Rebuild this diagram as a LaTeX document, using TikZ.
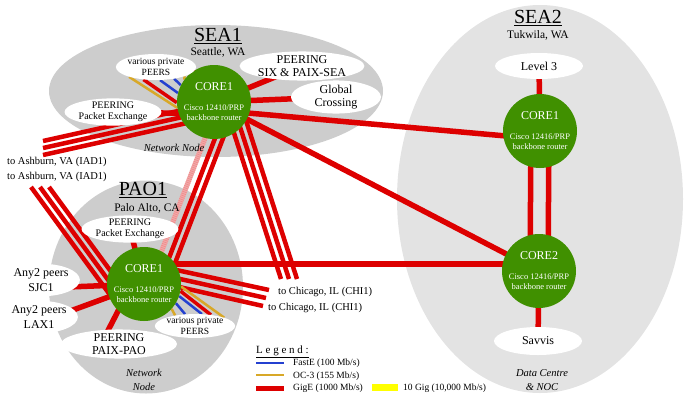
\documentclass[tikz,border=0pt]{standalone}
\usepackage{fontspec}
\setmainfont{Liberation Serif}
\usetikzlibrary{shapes.geometric}
\definecolor{coregreen}{RGB}{64,144,0}
\definecolor{linkred}{RGB}{221,0,0}
\definecolor{fastblue}{RGB}{36,64,208}
\definecolor{ocgold}{RGB}{216,168,40}
\definecolor{nodegray}{RGB}{205,205,205}
\definecolor{dcgray}{RGB}{227,227,227}
\definecolor{tengig}{RGB}{255,255,0}
\definecolor{planpink}{RGB}{240,170,170}
\pgfdeclarelayer{regions}
\pgfdeclarelayer{links}
\pgfsetlayers{regions,links,main}

\begin{document}
\begin{tikzpicture}[x=1pt, y=-1pt,
  region/.style={ellipse, inner sep=0pt},
  peer/.style={ellipse, fill=white, inner sep=0pt, align=center, font=\fontsize{12}{12.5}\selectfont},
  smallpeer/.style={peer, font=\fontsize{9.5}{10.5}\selectfont},
  core/.style={circle, fill=coregreen, text=white, minimum size=74pt, inner sep=0pt, align=center, font=\fontsize{8.5}{10}\selectfont},
  title/.style={inner sep=0pt, font=\fontsize{20}{20}\selectfont},
  place/.style={inner sep=0pt, font=\fontsize{11.5}{12}\selectfont},
  note/.style={inner sep=0pt, align=center, font=\fontsize{10.5}{14}\selectfont\itshape},
  dest/.style={inner sep=0pt, anchor=west, font=\fontsize{10.5}{12}\selectfont},
  legtext/.style={inner sep=0pt, anchor=west, font=\fontsize{9.5}{10}\selectfont},
  gige/.style={draw=linkred, line width=5.5pt},
  trunk/.style={draw=linkred, line width=4.5pt},
  peerred/.style={draw=linkred, line width=3.5pt},
  fastE/.style={draw=fastblue, line width=2.5pt},
  octhree/.style={draw=ocgold, line width=2.5pt},
  planned/.style={draw=planpink, line width=5pt},
]
  \useasboundingbox (0,0) rectangle (693,400);

  % draw the grey site areas
  \begin{pgfonlayer}{regions}
    \node[region, fill=nodegray, minimum width=334pt, minimum height=132pt] (sea1) at (216,91) {};
    \node[region, fill=nodegray, minimum width=194pt, minimum height=213pt] (pao1) at (146,287) {};
    \node[region, fill=dcgray, minimum width=286pt, minimum height=388pt] (sea2) at (540,199) {};
  \end{pgfonlayer}

  % SEA1 site
  \node[title] (sea1name) at (218,36) {\underline{SEA1}};
  \node[place] (sea1town) at (218,52) {Seattle, WA};
  \node[core] (sea1core) at (214,102) {{\fontsize{12}{12}\selectfont CORE1}\\[10pt]Cisco 12410/PRP\\backbone router};
  \node[smallpeer, minimum width=80pt, minimum height=26pt] (privsea) at (156,67) {various private\\PEERS};
  \node[peer, minimum width=116pt, minimum height=28pt] (sixsea) at (302,66) {PEERING\\SIX \& PAIX-SEA};
  \node[peer, minimum width=90pt, minimum height=30pt] (global) at (336,97) {Global\\Crossing};
  \node[smallpeer, minimum width=80pt, minimum height=24pt, font=\fontsize{10}{10.5}\selectfont] (packsea) at (113,112) {PEERING\\Packet Exchange};
  \node[note] (sea1note) at (174,148) {Network Node};

  % PAO1 site
  \node[title] (pao1name) at (143,190) {\underline{PAO1}};
  \node[place] (pao1town) at (147,208) {Palo Alto, CA};
  \node[core] (paocore) at (144,284) {{\fontsize{12}{12}\selectfont CORE1}\\[10pt]Cisco 12410/PRP\\backbone router};
  \node[smallpeer, minimum width=80pt, minimum height=24pt, font=\fontsize{10}{10.5}\selectfont] (packpao) at (130,229) {PEERING\\Packet Exchange};
  \node[peer, minimum width=68pt, minimum height=32pt, font=\fontsize{12}{15}\selectfont] (sjc) at (41,280) {Any2 peers\\SJC1};
  \node[peer, minimum width=70pt, minimum height=32pt, font=\fontsize{12}{15}\selectfont] (lax) at (39,317) {Any2 peers\\LAX1};
  \node[peer, minimum width=116pt, minimum height=26pt] (paix) at (119,344) {PEERING\\PAIX-PAO};
  \node[smallpeer, minimum width=80pt, minimum height=22pt] (privpao) at (195,326) {various private\\PEERS};
  \node[note] (pao1note) at (144,380) {Network\\Node};

  % SEA2 site
  \node[title] (sea2name) at (538,18) {\underline{SEA2}};
  \node[place] (sea2town) at (538,35) {Tukwila, WA};
  \node[peer, minimum width=88pt, minimum height=26pt] (level3) at (539,66) {Level 3};
  \node[core] (sea2core1) at (540,131) {{\fontsize{12}{12}\selectfont CORE1}\\[10pt]Cisco 12416/PRP\\backbone router};
  \node[core] (sea2core2) at (539,271) {{\fontsize{12}{12}\selectfont CORE2}\\[10pt]Cisco 12416/PRP\\backbone router};
  \node[peer, minimum width=88pt, minimum height=28pt] (savvis) at (538,341) {Savvis};
  \node[note] (sea2note) at (542,380) {Data Centre\\\& NOC};

  % free ends of the long haul circuits
  \coordinate (iadsea) at (43,148);
  \coordinate (iadpao) at (40,187);
  \coordinate (chisea) at (289,279);
  \coordinate (chipao) at (266,298);
  \node[dest] (iadseatext) at (7,162) {to Ashburn, VA (IAD1)};
  \node[dest] (iadpaotext) at (7,177) {to Ashburn, VA (IAD1)};
  \node[dest] (chiseatext) at (278,292) {to Chicago, IL (CHI1)};
  \node[dest] (chipaotext) at (268,308) {to Chicago, IL (CHI1)};

  \begin{pgfonlayer}{links}
    % draw SEA1 links
    \draw[octhree] (privsea.200) -- (sea1core.189);
    \draw[peerred] (privsea.225) -- (sea1core.181);
    \draw[fastE] (privsea.287) -- (sea1core.166);
    \draw[fastE] (privsea.327) -- (sea1core.153);
    \draw[octhree] (privsea.342) -- (sea1core.143);
    \draw[peerred] (privsea.355) -- (sea1core.128);
    \draw[gige] (sixsea.center) -- (sea1core.center);
    \draw[gige] (global.center) -- (sea1core.center);
    \draw[gige] (packsea.center) -- ([shift={(0,12)}]sea1core.center);
    \foreach \s in {-7,0,7}
      \draw[trunk] ([shift={(0,\s)}]iadsea) -- ([shift={(0,\s+8)}]sea1core.center);
    \foreach \s in {-8,0,8}
      \draw[trunk] ([shift={(\s+18,0)}]sea1core.center) -- ([shift={(\s,0)}]chisea);
    \draw[gige] ([shift={(0,8)}]sea1core.center) -- ([shift={(0,8)}]sea2core1.center);
    \draw[gige] (sea1core.center) -- (sea2core2.center);
    % draw SEA1 to PAO1 links
    \draw[planned] ([shift={(5,0)}]sea1core.center) -- ([shift={(5,0)}]paocore.center);
    \draw[draw=linkred!45, line width=5pt, dash pattern=on 0.7pt off 1.3pt] ([shift={(5,0)}]sea1core.center) -- ([shift={(5,0)}]paocore.center);
    \foreach \s in {15,23}
      \draw[trunk] ([shift={(\s,0)}]sea1core.center) -- ([shift={(\s,0)}]paocore.center);
    % draw PAO1 links
    \draw[gige] (packpao.center) -- (paocore.center);
    \draw[gige] ([shift={(2,8)}]sjc.center) -- (paocore.center);
    \draw[gige] ([shift={(4,4)}]lax.center) -- (paocore.center);
    \draw[gige] ([shift={(-18,0)}]paix.center) -- ([shift={(-12,0)}]paocore.center);
    \foreach \s in {-9,0,9}
      \draw[trunk] ([shift={(\s,0)}]iadpao) -- ([shift={(\s-19,19)}]paocore.center);
    \foreach \dx/\dy in {3/-8,0/0,-3/8}
      \draw[trunk] ([shift={(0,\dy-13)}]paocore.center) -- ([shift={(\dx,\dy)}]chipao);
    \draw[gige] ([shift={(0,-20)}]paocore.center) -- ([shift={(0,-7)}]sea2core2.center);
    \draw[octhree] (paocore.-4) -- (privpao.16);
    \draw[peerred] (paocore.-11) -- (privpao.35);
    \draw[fastE] (paocore.-19) -- (privpao.60);
    \draw[fastE] (paocore.-31) -- (privpao.130);
    \draw[octhree] (paocore.-42) -- (privpao.152);
    % draw SEA2 links
    \draw[gige] (level3.center) -- (sea2core1.center);
    \draw[gige] ([shift={(-9,0)}]sea2core1.center) -- ([shift={(-9,0)}]sea2core2.center);
    \draw[gige] ([shift={(9,0)}]sea2core1.center) -- ([shift={(9,0)}]sea2core2.center);
    \draw[gige] (sea2core2.center) -- (savvis.center);
  \end{pgfonlayer}

  % legend
  \node[legtext, font=\fontsize{11}{12}\selectfont] (legtitle) at (256,352) {\underline{L e g e n d :}};
  \draw[fastE] (256,363) -- (284,363);
  \node[legtext] (legfast) at (293,363) {FastE (100 Mb/s)};
  \draw[octhree] (256,375) -- (284,375);
  \node[legtext] (legoc) at (293,376) {OC-3 (155 Mb/s)};
  \draw[gige, line width=5pt] (256,388) -- (284,388);
  \node[legtext] (leggig) at (293,388) {GigE (1000 Mb/s)};
  \fill[tengig] (372,384) rectangle (398,391);
  \node[legtext] (legten) at (403,388) {10 Gig (10,000 Mb/s)};
\end{tikzpicture}
\end{document}
